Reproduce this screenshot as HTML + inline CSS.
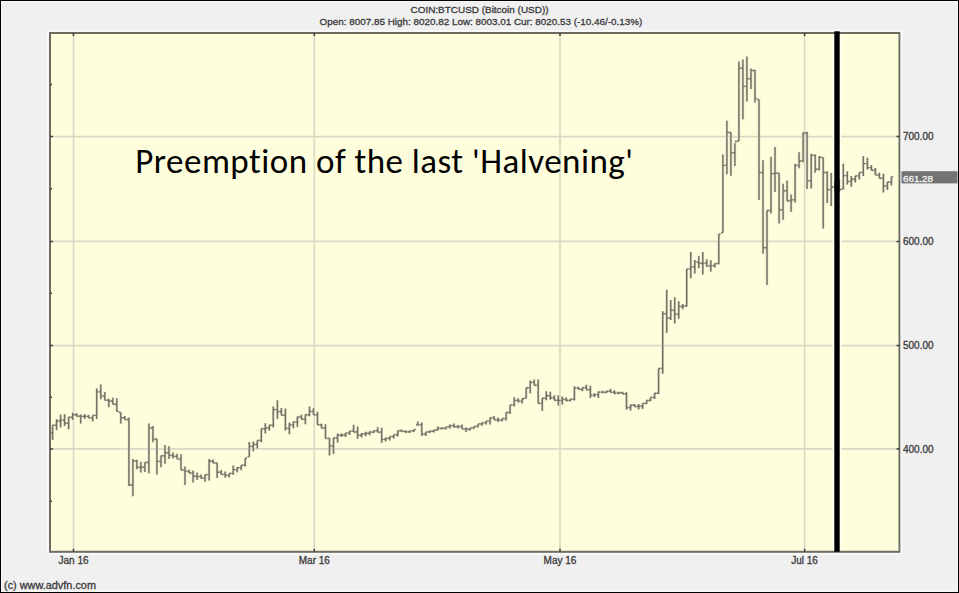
<!DOCTYPE html>
<html><head><meta charset="utf-8"><style>
html,body{margin:0;padding:0}
body{width:959px;height:593px;overflow:hidden;background:#f0f0f0;position:relative;font-family:"Liberation Sans",Arial,sans-serif}
#frame{position:absolute;left:0;top:0;width:955px;height:589px;border:1px solid #000;box-shadow:inset 0 0 0 1px #f7f7f7;padding:1px}
.t{position:absolute;white-space:pre;color:#3a3a3a;font-size:10px;line-height:11px;-webkit-text-stroke:0.3px currentColor}
svg{position:absolute;left:0;top:0}
</style></head><body>
<div id="frame"></div>
<div class="t" style="left:0;width:959px;text-align:center;top:4px;font-size:9.95px">COIN:BTCUSD (Bitcoin (USD))</div>
<div class="t" style="left:1.5px;width:959px;text-align:center;top:16px;font-size:9.9px">Open: 8007.85 High: 8020.82 Low: 8003.01 Cur: 8020.53 (-10.46/-0.13%)</div>
<svg width="959" height="593" viewBox="0 0 959 593">
<rect x="50.0" y="33.0" width="849.5" height="518.8" fill="#fefedd"/>
<g stroke="#d9d9c6" stroke-width="1.7"><line x1="73.5" y1="33.0" x2="73.5" y2="551.8"/><line x1="314.3" y1="33.0" x2="314.3" y2="551.8"/><line x1="560.0" y1="33.0" x2="560.0" y2="551.8"/><line x1="804.6" y1="33.0" x2="804.6" y2="551.8"/><line x1="50.0" y1="136.6" x2="899.5" y2="136.6"/><line x1="50.0" y1="241.4" x2="899.5" y2="241.4"/><line x1="50.0" y1="345.6" x2="899.5" y2="345.6"/><line x1="50.0" y1="448.9" x2="899.5" y2="448.9"/></g>
<rect x="832.6" y="34.0" width="8.8" height="516.8" fill="#fffff2"/>
<text x="135.3" y="172.6" textLength="497.7" lengthAdjust="spacing" font-family="Carlito, 'Liberation Sans', sans-serif" font-size="35" fill="#000" style="font-variant-ligatures:none;font-kerning:normal">Preemption of the last 'Halvening'</text>
<path d="M52.6 425.2V440.1M50.8 432.6H52.6M52.6 425.2H54.4M56.6 419.3V430.0M54.8 425.2H56.6M56.6 421.0H58.4M60.6 414.6V427.4M58.8 421.0H60.6M60.6 420.1H62.4M64.6 414.2V426.0M62.8 420.1H64.6M64.6 423.2H66.4M68.6 417.2V429.3M66.8 423.2H68.6M68.6 417.2H70.4M72.7 412.8V419.9M70.9 417.2H72.7M72.7 414.8H74.5M76.7 413.2V416.3M74.9 414.8H76.7M76.7 416.3H78.5M80.7 414.4V423.4M78.9 416.3H80.7M80.7 416.4H82.5M84.7 413.9V419.0M82.9 416.4H84.7M84.7 416.4H86.5M88.7 414.9V417.9M86.9 416.4H88.7M88.7 417.9H90.5M92.7 415.4V421.5M90.9 417.9H92.7M92.7 415.4H94.5M96.7 388.6V419.0M94.9 415.4H96.7M96.7 391.9H98.5M100.8 384.6V399.2M99.0 391.9H100.8M100.8 396.1H102.6M104.8 392.1V400.2M103.0 396.1H104.8M104.8 400.2H106.6M108.8 398.7V407.3M107.0 400.2H108.8M108.8 401.0H110.6M112.8 397.7V404.3M111.0 401.0H112.8M112.8 404.3H114.6M116.8 398.2V411.4M115.0 404.3H116.8M116.8 411.4H118.6M120.8 412.4V423.5M119.0 412.4H120.8M120.8 417.7H122.6M124.8 415.9V419.5M123.0 417.7H124.8M124.8 419.5H126.6M128.9 417.4V486.0M127.1 419.5H128.9M128.9 485.0H130.7M132.9 459.1V496.2M131.1 485.0H132.9M132.9 461.0H134.7M136.9 459.8V469.2M135.1 461.0H136.9M136.9 467.2H138.7M140.9 461.8V472.6M139.1 467.2H140.9M140.9 467.2H142.7M144.9 462.5V471.9M143.1 467.2H144.9M144.9 462.5H146.7M148.9 423.4V473.3M147.1 462.5H148.9M148.9 428.0H150.7M152.9 426.1V442.2M151.1 428.0H152.9M152.9 439.0H154.7M156.9 438.9V474.6M155.1 439.0H156.9M156.9 461.4H158.7M161.0 455.7V467.2M159.2 461.4H161.0M161.0 455.7H162.8M165.0 445.0V463.8M163.2 455.7H165.0M165.0 452.7H166.8M169.0 446.3V459.1M167.2 452.7H169.0M169.0 455.4H170.8M173.0 452.4V458.4M171.2 455.4H173.0M173.0 456.4H174.8M177.0 453.7V459.1M175.2 456.4H177.0M177.0 459.1H178.8M181.0 454.3V470.0M179.2 459.1H181.0M181.0 470.0H182.8M185.0 466.4V485.0M183.2 470.0H185.0M185.0 471.4H186.8M189.1 469.8V473.0M187.3 471.4H189.1M189.1 473.0H190.9M193.1 470.4V482.6M191.3 473.0H193.1M193.1 476.3H194.9M197.1 472.6V480.0M195.3 476.3H197.1M197.1 476.6H198.9M201.1 474.5V478.8M199.3 476.6H201.1M201.1 478.1H202.9M205.1 474.6V481.7M203.3 478.1H205.1M205.1 474.6H206.9M209.1 458.9V480.6M207.3 474.6H209.1M209.1 461.2H210.9M213.1 459.5V463.0M211.3 461.2H213.1M213.1 463.0H214.9M217.1 462.8V477.9M215.3 463.0H217.1M217.1 472.2H218.9M221.2 470.0V474.4M219.4 472.2H221.2M221.2 474.4H223.0M225.2 471.4V477.4M223.4 474.4H225.2M225.2 475.4H227.0M229.2 473.4V477.4M227.4 475.4H229.2M229.2 473.4H231.0M233.2 465.5V474.7M231.4 473.4H233.2M233.2 469.6H235.0M237.2 466.9V472.3M235.4 469.6H237.2M237.2 467.8H239.0M241.2 465.2V470.3M239.4 467.8H241.2M241.2 465.2H243.0M245.2 458.3V466.4M243.4 465.2H245.2M245.2 458.3H247.0M249.3 442.1V456.6M247.5 456.6H249.3M249.3 446.4H251.1M253.3 441.4V451.3M251.5 446.4H253.3M253.3 444.5H255.1M257.3 440.4V448.6M255.5 444.5H257.3M257.3 440.4H259.1M261.3 428.7V442.2M259.5 440.4H261.3M261.3 428.7H263.1M265.3 423.3V433.4M263.5 428.7H265.3M265.3 428.0H267.1M269.3 425.3V430.7M267.5 428.0H269.3M269.3 425.3H271.1M273.3 406.5V427.4M271.5 425.3H273.3M273.3 409.6H275.1M277.4 400.2V419.0M275.6 409.6H277.4M277.4 411.6H279.2M281.4 408.0V415.3M279.6 411.6H281.4M281.4 415.3H283.2M285.4 408.6V430.5M283.6 415.3H285.4M285.4 428.4H287.2M289.4 422.5V434.3M287.6 428.4H289.4M289.4 424.9H291.2M293.4 421.4V428.3M291.6 424.9H293.4M293.4 421.9H295.2M297.4 416.8V426.9M295.6 421.9H297.4M297.4 417.0H299.2M301.4 414.7V419.3M299.6 417.0H301.4M301.4 419.3H303.2M305.4 414.7V424.3M303.6 419.3H305.4M305.4 414.7H307.2M309.5 406.6V416.2M307.7 414.7H309.5M309.5 411.4H311.3M313.5 408.2V414.7M311.7 411.4H313.5M313.5 414.7H315.3M317.5 411.7V424.8M315.7 414.7H317.5M317.5 424.8H319.3M321.5 423.7V428.0M319.7 424.8H321.5M321.5 428.0H323.3M325.5 424.2V438.4M323.7 428.0H325.5M325.5 438.4H327.3M329.5 437.9V455.6M327.7 438.4H329.5M329.5 446.0H331.3M333.5 437.9V454.1M331.7 446.0H333.5M333.5 438.0H335.3M337.6 433.5V442.5M335.8 438.0H337.6M337.6 435.3H339.4M341.6 433.6V437.0M339.8 435.3H341.6M341.6 435.0H343.4M345.6 433.0V437.0M343.8 435.0H345.6M345.6 433.1H347.4M349.6 431.1V435.0M347.8 433.1H349.6M349.6 431.1H351.4M353.6 424.7V432.0M351.8 431.1H353.6M353.6 432.0H355.4M357.6 426.5V438.7M355.8 432.0H357.6M357.6 435.2H359.4M361.6 433.1V437.4M359.8 435.2H361.6M361.6 434.0H363.4M365.7 431.8V436.2M363.9 434.0H365.7M365.7 433.3H367.5M369.7 431.3V435.3M367.9 433.3H369.7M369.7 432.1H371.5M373.7 430.8V433.3M371.9 432.1H373.7M373.7 430.8H375.5M377.7 427.3V432.3M375.9 430.8H377.7M377.7 432.3H379.5M381.7 427.8V442.9M379.9 432.3H381.7M381.7 439.4H383.5M385.7 437.4V441.4M383.9 439.4H385.7M385.7 438.4H387.5M389.7 436.4V440.4M387.9 438.4H389.7M389.7 436.6H391.5M393.7 434.8V438.4M391.9 436.6H393.7M393.7 434.8H395.5M397.8 430.8V436.4M396.0 434.8H397.8M397.8 430.8H399.6M401.8 429.6V431.4M400.0 430.8H401.8M401.8 431.4H403.6M405.8 430.6V432.9M404.0 431.4H405.8M405.8 431.8H407.6M409.8 430.4V433.1M408.0 431.8H409.8M409.8 430.9H411.6M413.8 429.6V432.1M412.0 430.9H413.8M413.8 429.6H415.6M417.8 421.4V424.9M416.0 424.9H417.8M417.8 424.9H419.6M421.8 422.4V436.0M420.0 424.9H421.8M421.8 434.0H423.6M425.9 432.0V436.0M424.1 434.0H425.9M425.9 432.0H427.7M429.9 430.5V433.0M428.1 432.0H429.9M429.9 431.2H431.7M433.9 430.0V432.5M432.1 431.2H433.9M433.9 430.0H435.7M437.9 426.4V430.5M436.1 430.0H437.9M437.9 428.4H439.7M441.9 427.4V429.5M440.1 428.4H441.9M441.9 428.2H443.7M445.9 426.9V429.5M444.1 428.2H445.9M445.9 426.9H447.7M449.9 424.4V428.4M448.1 426.9H449.9M449.9 425.6H451.7M454.0 423.4V427.9M452.2 425.6H454.0M454.0 426.6H455.8M458.0 424.9V428.4M456.2 426.6H458.0M458.0 426.6H459.8M462.0 424.4V428.9M460.2 426.6H462.0M462.0 428.9H463.8M466.0 427.4V432.0M464.2 428.9H466.0M466.0 429.2H467.8M470.0 427.9V430.5M468.2 429.2H470.0M470.0 427.9H471.8M474.0 426.4V428.9M472.2 427.9H474.0M474.0 426.4H475.8M478.0 423.9V427.4M476.2 426.4H478.0M478.0 424.0H479.8M482.0 422.2V425.8M480.2 424.0H482.0M482.0 422.9H483.8M486.1 421.1V424.6M484.3 422.9H486.1M486.1 421.1H487.9M490.1 417.5V424.6M488.3 421.1H490.1M490.1 417.9H491.9M494.1 416.0V419.7M492.3 417.9H494.1M494.1 419.7H495.9M498.1 417.5V422.1M496.3 419.7H498.1M498.1 420.1H499.9M502.1 418.6V421.6M500.3 420.1H502.1M502.1 418.6H503.9M506.1 412.5V420.6M504.3 418.6H506.1M506.1 412.5H507.9M510.1 404.9V414.0M508.3 412.5H510.1M510.1 404.9H511.9M514.2 397.3V406.4M512.4 404.9H514.2M514.2 400.4H516.0M518.2 398.3V402.4M516.4 400.4H518.2M518.2 401.1H520.0M522.2 398.8V403.4M520.4 401.1H522.2M522.2 398.8H524.0M526.2 387.7V398.3M524.4 398.3H526.2M526.2 387.7H528.0M530.2 380.6V393.3M528.4 387.7H530.2M530.2 382.4H532.0M534.2 379.6V385.2M532.4 382.4H534.2M534.2 385.2H536.0M538.2 379.6V403.4M536.4 385.2H538.2M538.2 403.4H540.0M542.3 398.3V411.0M540.5 403.4H542.3M542.3 398.3H544.1M546.3 391.2V400.3M544.5 398.3H546.3M546.3 395.8H548.1M550.3 391.7V399.8M548.5 395.8H550.3M550.3 397.8H552.1M554.3 395.3V400.3M552.5 397.8H554.3M554.3 400.3H556.1M558.3 395.3V405.4M556.5 400.3H558.3M558.3 400.5H560.1M562.3 396.6V404.4M560.5 400.5H562.3M562.3 399.4H564.1M566.3 397.5V401.4M564.5 399.4H566.3M566.3 400.4H568.1M570.3 399.3V401.4M568.5 400.4H570.3M570.3 399.3H572.1M574.4 386.2V400.4M572.6 399.3H574.4M574.4 388.1H576.2M578.4 386.8V389.3M576.6 388.1H578.4M578.4 389.3H580.2M582.4 387.8V391.3M580.6 389.3H582.4M582.4 387.8H584.2M586.4 384.7V389.8M584.6 387.8H586.4M586.4 389.8H588.2M590.4 385.7V397.9M588.6 389.8H590.4M590.4 395.1H592.2M594.4 393.3V396.9M592.6 395.1H594.4M594.4 394.6H596.2M598.4 391.3V397.9M596.6 394.6H598.4M598.4 392.1H600.2M602.5 390.8V393.3M600.7 392.1H602.5M602.5 392.3H604.3M606.5 391.3V393.3M604.7 392.3H606.5M606.5 391.3H608.3M610.5 388.8V392.3M608.7 391.3H610.5M610.5 392.3H612.3M614.5 390.3V394.3M612.7 392.3H614.5M614.5 393.1H616.3M618.5 391.8V394.3M616.7 393.1H618.5M618.5 392.8H620.3M622.5 391.8V393.8M620.7 392.8H622.5M622.5 393.8H624.3M626.5 392.3V409.5M624.7 393.8H626.5M626.5 407.5H628.3M630.6 404.5V410.5M628.8 407.5H630.6M630.6 405.2H632.4M634.6 403.9V406.5M632.8 405.2H634.6M634.6 406.5H636.4M638.6 403.9V409.5M636.8 406.5H638.6M638.6 406.2H640.4M642.6 403.4V409.0M640.8 406.2H642.6M642.6 403.4H644.4M646.6 400.5V404.0M644.8 403.4H646.6M646.6 400.5H648.4M650.6 397.4V401.0M648.8 400.5H650.6M650.6 397.4H652.4M654.6 393.3V399.0M652.8 397.4H654.6M654.6 393.3H656.4M658.6 368.4V394.0M656.8 393.3H658.6M658.6 368.4H660.4M662.7 311.3V373.8M660.9 368.4H662.7M662.7 313.7H664.5M666.7 289.8V333.0M664.9 313.7H666.7M666.7 318.0H668.5M670.7 299.9V320.1M668.9 318.0H670.7M670.7 310.3H672.5M674.7 297.2V323.5M672.9 310.3H674.7M674.7 314.1H676.5M678.7 301.2V318.8M676.9 314.1H678.7M678.7 306.5H680.5M682.7 303.9V309.3M680.9 306.5H682.7M682.7 306.0H684.5M686.7 268.9V306.6M684.9 306.0H686.7M686.7 268.9H688.5M690.8 252.0V278.3M689.0 268.9H690.8M690.8 266.9H692.6M694.8 260.1V273.6M693.0 266.9H694.8M694.8 262.1H696.6M698.8 256.1V268.2M697.0 262.1H698.8M698.8 263.2H700.6M702.8 252.0V274.5M701.0 263.2H702.8M702.8 263.1H704.6M706.8 259.3V267.0M705.0 263.1H706.8M706.8 265.9H708.6M710.8 260.3V271.4M709.0 265.9H710.8M710.8 265.6H712.6M714.8 263.6V267.5M713.0 265.6H714.8M714.8 263.6H716.6M718.8 234.1V264.2M717.0 263.6H718.8M718.8 234.1H720.6M722.9 154.6V232.6M721.1 232.6H722.9M722.9 165.4H724.7M726.9 120.8V174.3M725.1 165.4H726.9M726.9 132.5H728.7M730.9 132.4V175.8M729.1 132.5H730.9M730.9 152.8H732.7M734.9 143.2V166.0M733.1 152.8H734.9M734.9 141.5H736.7M738.9 61.4V141.0M737.1 141.0H738.9M738.9 68.2H740.7M742.9 59.5V119.3M741.1 68.2H742.9M742.9 86.4H744.7M746.9 56.5V101.4M745.1 86.4H746.9M746.9 78.8H748.7M751.0 68.6V89.0M749.2 78.8H751.0M751.0 70.5H752.8M755.0 70.0V102.6M753.2 70.5H755.0M755.0 98.6H756.8M759.0 99.6V200.0M757.2 99.6H759.0M759.0 172.5H760.8M763.0 160.2V253.8M761.2 172.5H763.0M763.0 247.7H764.8M767.0 210.5V284.9M765.2 247.7H767.0M767.0 210.5H768.8M771.0 156.8V213.5M769.2 210.5H771.0M771.0 173.6H772.8M775.0 147.0V192.0M773.2 173.6H775.0M775.0 173.3H776.8M779.1 173.2V223.4M777.3 173.3H779.1M779.1 209.8H780.9M783.1 183.8V219.8M781.3 209.8H783.1M783.1 190.7H784.9M787.1 180.4V201.0M785.3 190.7H787.1M787.1 201.0H788.9M791.1 194.5V211.8M789.3 201.0H791.1M791.1 199.9H792.9M795.1 163.7V202.5M793.3 199.9H795.1M795.1 165.4H796.9M799.1 152.3V168.2M797.3 165.4H799.1M799.1 161.0H800.9M803.1 132.6V162.2M801.3 161.0H803.1M803.1 133.0H804.9M807.1 131.8V189.0M805.3 133.0H807.1M807.1 180.7H808.9M811.2 153.8V188.5M809.4 180.7H811.2M811.2 155.4H813.0M815.2 154.6V172.8M813.4 155.4H815.2M815.2 169.3H817.0M819.2 156.1V170.5M817.4 169.3H819.2M819.2 157.3H821.0M823.2 157.6V228.5M821.4 157.6H823.2M823.2 172.5H825.0M827.2 171.3V203.0M825.4 172.5H827.2M827.2 189.6H829.0M831.2 173.0V206.1M829.4 189.6H831.2M831.2 187.0H833.0M835.2 181.0V193.0M833.4 187.0H835.2M835.2 185.6H837.0M839.3 179.6V191.7M837.5 185.6H839.3M839.3 189.6H841.1M843.3 163.8V189.0M841.5 189.0H843.3M843.3 175.6H845.1M847.3 171.2V184.6M845.5 175.6H847.3M847.3 181.4H849.1M851.3 176.0V186.8M849.5 181.4H851.3M851.3 179.2H853.1M855.3 175.9V182.5M853.5 179.2H855.3M855.3 175.9H857.1M859.3 172.4V179.5M857.5 175.9H859.3M859.3 172.4H861.1M863.3 156.2V175.9M861.5 172.4H863.3M863.3 163.6H865.1M867.4 157.7V169.4M865.6 163.6H867.4M867.4 167.6H869.2M871.4 165.0V170.2M869.6 167.6H871.4M871.4 170.2H873.2M875.4 168.0V175.0M873.6 170.2H875.4M875.4 175.0H877.2M879.4 172.8V178.2M877.6 175.0H879.4M879.4 178.2H881.2M883.4 173.8V192.5M881.6 178.2H883.4M883.4 186.0H885.2M887.4 182.0V190.0M885.6 186.0H887.4M887.4 182.0H889.2M891.4 176.5V185.6M889.6 182.0H891.4M891.4 176.9H893.2" stroke="#d6d6c0" stroke-width="2.5" fill="none"/>
<path d="M52.6 425.2V440.1M50.8 432.6H52.6M52.6 425.2H54.4M56.6 419.3V430.0M54.8 425.2H56.6M56.6 421.0H58.4M60.6 414.6V427.4M58.8 421.0H60.6M60.6 420.1H62.4M64.6 414.2V426.0M62.8 420.1H64.6M64.6 423.2H66.4M68.6 417.2V429.3M66.8 423.2H68.6M68.6 417.2H70.4M72.7 412.8V419.9M70.9 417.2H72.7M72.7 414.8H74.5M76.7 413.2V416.3M74.9 414.8H76.7M76.7 416.3H78.5M80.7 414.4V423.4M78.9 416.3H80.7M80.7 416.4H82.5M84.7 413.9V419.0M82.9 416.4H84.7M84.7 416.4H86.5M88.7 414.9V417.9M86.9 416.4H88.7M88.7 417.9H90.5M92.7 415.4V421.5M90.9 417.9H92.7M92.7 415.4H94.5M96.7 388.6V419.0M94.9 415.4H96.7M96.7 391.9H98.5M100.8 384.6V399.2M99.0 391.9H100.8M100.8 396.1H102.6M104.8 392.1V400.2M103.0 396.1H104.8M104.8 400.2H106.6M108.8 398.7V407.3M107.0 400.2H108.8M108.8 401.0H110.6M112.8 397.7V404.3M111.0 401.0H112.8M112.8 404.3H114.6M116.8 398.2V411.4M115.0 404.3H116.8M116.8 411.4H118.6M120.8 412.4V423.5M119.0 412.4H120.8M120.8 417.7H122.6M124.8 415.9V419.5M123.0 417.7H124.8M124.8 419.5H126.6M128.9 417.4V486.0M127.1 419.5H128.9M128.9 485.0H130.7M132.9 459.1V496.2M131.1 485.0H132.9M132.9 461.0H134.7M136.9 459.8V469.2M135.1 461.0H136.9M136.9 467.2H138.7M140.9 461.8V472.6M139.1 467.2H140.9M140.9 467.2H142.7M144.9 462.5V471.9M143.1 467.2H144.9M144.9 462.5H146.7M148.9 423.4V473.3M147.1 462.5H148.9M148.9 428.0H150.7M152.9 426.1V442.2M151.1 428.0H152.9M152.9 439.0H154.7M156.9 438.9V474.6M155.1 439.0H156.9M156.9 461.4H158.7M161.0 455.7V467.2M159.2 461.4H161.0M161.0 455.7H162.8M165.0 445.0V463.8M163.2 455.7H165.0M165.0 452.7H166.8M169.0 446.3V459.1M167.2 452.7H169.0M169.0 455.4H170.8M173.0 452.4V458.4M171.2 455.4H173.0M173.0 456.4H174.8M177.0 453.7V459.1M175.2 456.4H177.0M177.0 459.1H178.8M181.0 454.3V470.0M179.2 459.1H181.0M181.0 470.0H182.8M185.0 466.4V485.0M183.2 470.0H185.0M185.0 471.4H186.8M189.1 469.8V473.0M187.3 471.4H189.1M189.1 473.0H190.9M193.1 470.4V482.6M191.3 473.0H193.1M193.1 476.3H194.9M197.1 472.6V480.0M195.3 476.3H197.1M197.1 476.6H198.9M201.1 474.5V478.8M199.3 476.6H201.1M201.1 478.1H202.9M205.1 474.6V481.7M203.3 478.1H205.1M205.1 474.6H206.9M209.1 458.9V480.6M207.3 474.6H209.1M209.1 461.2H210.9M213.1 459.5V463.0M211.3 461.2H213.1M213.1 463.0H214.9M217.1 462.8V477.9M215.3 463.0H217.1M217.1 472.2H218.9M221.2 470.0V474.4M219.4 472.2H221.2M221.2 474.4H223.0M225.2 471.4V477.4M223.4 474.4H225.2M225.2 475.4H227.0M229.2 473.4V477.4M227.4 475.4H229.2M229.2 473.4H231.0M233.2 465.5V474.7M231.4 473.4H233.2M233.2 469.6H235.0M237.2 466.9V472.3M235.4 469.6H237.2M237.2 467.8H239.0M241.2 465.2V470.3M239.4 467.8H241.2M241.2 465.2H243.0M245.2 458.3V466.4M243.4 465.2H245.2M245.2 458.3H247.0M249.3 442.1V456.6M247.5 456.6H249.3M249.3 446.4H251.1M253.3 441.4V451.3M251.5 446.4H253.3M253.3 444.5H255.1M257.3 440.4V448.6M255.5 444.5H257.3M257.3 440.4H259.1M261.3 428.7V442.2M259.5 440.4H261.3M261.3 428.7H263.1M265.3 423.3V433.4M263.5 428.7H265.3M265.3 428.0H267.1M269.3 425.3V430.7M267.5 428.0H269.3M269.3 425.3H271.1M273.3 406.5V427.4M271.5 425.3H273.3M273.3 409.6H275.1M277.4 400.2V419.0M275.6 409.6H277.4M277.4 411.6H279.2M281.4 408.0V415.3M279.6 411.6H281.4M281.4 415.3H283.2M285.4 408.6V430.5M283.6 415.3H285.4M285.4 428.4H287.2M289.4 422.5V434.3M287.6 428.4H289.4M289.4 424.9H291.2M293.4 421.4V428.3M291.6 424.9H293.4M293.4 421.9H295.2M297.4 416.8V426.9M295.6 421.9H297.4M297.4 417.0H299.2M301.4 414.7V419.3M299.6 417.0H301.4M301.4 419.3H303.2M305.4 414.7V424.3M303.6 419.3H305.4M305.4 414.7H307.2M309.5 406.6V416.2M307.7 414.7H309.5M309.5 411.4H311.3M313.5 408.2V414.7M311.7 411.4H313.5M313.5 414.7H315.3M317.5 411.7V424.8M315.7 414.7H317.5M317.5 424.8H319.3M321.5 423.7V428.0M319.7 424.8H321.5M321.5 428.0H323.3M325.5 424.2V438.4M323.7 428.0H325.5M325.5 438.4H327.3M329.5 437.9V455.6M327.7 438.4H329.5M329.5 446.0H331.3M333.5 437.9V454.1M331.7 446.0H333.5M333.5 438.0H335.3M337.6 433.5V442.5M335.8 438.0H337.6M337.6 435.3H339.4M341.6 433.6V437.0M339.8 435.3H341.6M341.6 435.0H343.4M345.6 433.0V437.0M343.8 435.0H345.6M345.6 433.1H347.4M349.6 431.1V435.0M347.8 433.1H349.6M349.6 431.1H351.4M353.6 424.7V432.0M351.8 431.1H353.6M353.6 432.0H355.4M357.6 426.5V438.7M355.8 432.0H357.6M357.6 435.2H359.4M361.6 433.1V437.4M359.8 435.2H361.6M361.6 434.0H363.4M365.7 431.8V436.2M363.9 434.0H365.7M365.7 433.3H367.5M369.7 431.3V435.3M367.9 433.3H369.7M369.7 432.1H371.5M373.7 430.8V433.3M371.9 432.1H373.7M373.7 430.8H375.5M377.7 427.3V432.3M375.9 430.8H377.7M377.7 432.3H379.5M381.7 427.8V442.9M379.9 432.3H381.7M381.7 439.4H383.5M385.7 437.4V441.4M383.9 439.4H385.7M385.7 438.4H387.5M389.7 436.4V440.4M387.9 438.4H389.7M389.7 436.6H391.5M393.7 434.8V438.4M391.9 436.6H393.7M393.7 434.8H395.5M397.8 430.8V436.4M396.0 434.8H397.8M397.8 430.8H399.6M401.8 429.6V431.4M400.0 430.8H401.8M401.8 431.4H403.6M405.8 430.6V432.9M404.0 431.4H405.8M405.8 431.8H407.6M409.8 430.4V433.1M408.0 431.8H409.8M409.8 430.9H411.6M413.8 429.6V432.1M412.0 430.9H413.8M413.8 429.6H415.6M417.8 421.4V424.9M416.0 424.9H417.8M417.8 424.9H419.6M421.8 422.4V436.0M420.0 424.9H421.8M421.8 434.0H423.6M425.9 432.0V436.0M424.1 434.0H425.9M425.9 432.0H427.7M429.9 430.5V433.0M428.1 432.0H429.9M429.9 431.2H431.7M433.9 430.0V432.5M432.1 431.2H433.9M433.9 430.0H435.7M437.9 426.4V430.5M436.1 430.0H437.9M437.9 428.4H439.7M441.9 427.4V429.5M440.1 428.4H441.9M441.9 428.2H443.7M445.9 426.9V429.5M444.1 428.2H445.9M445.9 426.9H447.7M449.9 424.4V428.4M448.1 426.9H449.9M449.9 425.6H451.7M454.0 423.4V427.9M452.2 425.6H454.0M454.0 426.6H455.8M458.0 424.9V428.4M456.2 426.6H458.0M458.0 426.6H459.8M462.0 424.4V428.9M460.2 426.6H462.0M462.0 428.9H463.8M466.0 427.4V432.0M464.2 428.9H466.0M466.0 429.2H467.8M470.0 427.9V430.5M468.2 429.2H470.0M470.0 427.9H471.8M474.0 426.4V428.9M472.2 427.9H474.0M474.0 426.4H475.8M478.0 423.9V427.4M476.2 426.4H478.0M478.0 424.0H479.8M482.0 422.2V425.8M480.2 424.0H482.0M482.0 422.9H483.8M486.1 421.1V424.6M484.3 422.9H486.1M486.1 421.1H487.9M490.1 417.5V424.6M488.3 421.1H490.1M490.1 417.9H491.9M494.1 416.0V419.7M492.3 417.9H494.1M494.1 419.7H495.9M498.1 417.5V422.1M496.3 419.7H498.1M498.1 420.1H499.9M502.1 418.6V421.6M500.3 420.1H502.1M502.1 418.6H503.9M506.1 412.5V420.6M504.3 418.6H506.1M506.1 412.5H507.9M510.1 404.9V414.0M508.3 412.5H510.1M510.1 404.9H511.9M514.2 397.3V406.4M512.4 404.9H514.2M514.2 400.4H516.0M518.2 398.3V402.4M516.4 400.4H518.2M518.2 401.1H520.0M522.2 398.8V403.4M520.4 401.1H522.2M522.2 398.8H524.0M526.2 387.7V398.3M524.4 398.3H526.2M526.2 387.7H528.0M530.2 380.6V393.3M528.4 387.7H530.2M530.2 382.4H532.0M534.2 379.6V385.2M532.4 382.4H534.2M534.2 385.2H536.0M538.2 379.6V403.4M536.4 385.2H538.2M538.2 403.4H540.0M542.3 398.3V411.0M540.5 403.4H542.3M542.3 398.3H544.1M546.3 391.2V400.3M544.5 398.3H546.3M546.3 395.8H548.1M550.3 391.7V399.8M548.5 395.8H550.3M550.3 397.8H552.1M554.3 395.3V400.3M552.5 397.8H554.3M554.3 400.3H556.1M558.3 395.3V405.4M556.5 400.3H558.3M558.3 400.5H560.1M562.3 396.6V404.4M560.5 400.5H562.3M562.3 399.4H564.1M566.3 397.5V401.4M564.5 399.4H566.3M566.3 400.4H568.1M570.3 399.3V401.4M568.5 400.4H570.3M570.3 399.3H572.1M574.4 386.2V400.4M572.6 399.3H574.4M574.4 388.1H576.2M578.4 386.8V389.3M576.6 388.1H578.4M578.4 389.3H580.2M582.4 387.8V391.3M580.6 389.3H582.4M582.4 387.8H584.2M586.4 384.7V389.8M584.6 387.8H586.4M586.4 389.8H588.2M590.4 385.7V397.9M588.6 389.8H590.4M590.4 395.1H592.2M594.4 393.3V396.9M592.6 395.1H594.4M594.4 394.6H596.2M598.4 391.3V397.9M596.6 394.6H598.4M598.4 392.1H600.2M602.5 390.8V393.3M600.7 392.1H602.5M602.5 392.3H604.3M606.5 391.3V393.3M604.7 392.3H606.5M606.5 391.3H608.3M610.5 388.8V392.3M608.7 391.3H610.5M610.5 392.3H612.3M614.5 390.3V394.3M612.7 392.3H614.5M614.5 393.1H616.3M618.5 391.8V394.3M616.7 393.1H618.5M618.5 392.8H620.3M622.5 391.8V393.8M620.7 392.8H622.5M622.5 393.8H624.3M626.5 392.3V409.5M624.7 393.8H626.5M626.5 407.5H628.3M630.6 404.5V410.5M628.8 407.5H630.6M630.6 405.2H632.4M634.6 403.9V406.5M632.8 405.2H634.6M634.6 406.5H636.4M638.6 403.9V409.5M636.8 406.5H638.6M638.6 406.2H640.4M642.6 403.4V409.0M640.8 406.2H642.6M642.6 403.4H644.4M646.6 400.5V404.0M644.8 403.4H646.6M646.6 400.5H648.4M650.6 397.4V401.0M648.8 400.5H650.6M650.6 397.4H652.4M654.6 393.3V399.0M652.8 397.4H654.6M654.6 393.3H656.4M658.6 368.4V394.0M656.8 393.3H658.6M658.6 368.4H660.4M662.7 311.3V373.8M660.9 368.4H662.7M662.7 313.7H664.5M666.7 289.8V333.0M664.9 313.7H666.7M666.7 318.0H668.5M670.7 299.9V320.1M668.9 318.0H670.7M670.7 310.3H672.5M674.7 297.2V323.5M672.9 310.3H674.7M674.7 314.1H676.5M678.7 301.2V318.8M676.9 314.1H678.7M678.7 306.5H680.5M682.7 303.9V309.3M680.9 306.5H682.7M682.7 306.0H684.5M686.7 268.9V306.6M684.9 306.0H686.7M686.7 268.9H688.5M690.8 252.0V278.3M689.0 268.9H690.8M690.8 266.9H692.6M694.8 260.1V273.6M693.0 266.9H694.8M694.8 262.1H696.6M698.8 256.1V268.2M697.0 262.1H698.8M698.8 263.2H700.6M702.8 252.0V274.5M701.0 263.2H702.8M702.8 263.1H704.6M706.8 259.3V267.0M705.0 263.1H706.8M706.8 265.9H708.6M710.8 260.3V271.4M709.0 265.9H710.8M710.8 265.6H712.6M714.8 263.6V267.5M713.0 265.6H714.8M714.8 263.6H716.6M718.8 234.1V264.2M717.0 263.6H718.8M718.8 234.1H720.6M722.9 154.6V232.6M721.1 232.6H722.9M722.9 165.4H724.7M726.9 120.8V174.3M725.1 165.4H726.9M726.9 132.5H728.7M730.9 132.4V175.8M729.1 132.5H730.9M730.9 152.8H732.7M734.9 143.2V166.0M733.1 152.8H734.9M734.9 141.5H736.7M738.9 61.4V141.0M737.1 141.0H738.9M738.9 68.2H740.7M742.9 59.5V119.3M741.1 68.2H742.9M742.9 86.4H744.7M746.9 56.5V101.4M745.1 86.4H746.9M746.9 78.8H748.7M751.0 68.6V89.0M749.2 78.8H751.0M751.0 70.5H752.8M755.0 70.0V102.6M753.2 70.5H755.0M755.0 98.6H756.8M759.0 99.6V200.0M757.2 99.6H759.0M759.0 172.5H760.8M763.0 160.2V253.8M761.2 172.5H763.0M763.0 247.7H764.8M767.0 210.5V284.9M765.2 247.7H767.0M767.0 210.5H768.8M771.0 156.8V213.5M769.2 210.5H771.0M771.0 173.6H772.8M775.0 147.0V192.0M773.2 173.6H775.0M775.0 173.3H776.8M779.1 173.2V223.4M777.3 173.3H779.1M779.1 209.8H780.9M783.1 183.8V219.8M781.3 209.8H783.1M783.1 190.7H784.9M787.1 180.4V201.0M785.3 190.7H787.1M787.1 201.0H788.9M791.1 194.5V211.8M789.3 201.0H791.1M791.1 199.9H792.9M795.1 163.7V202.5M793.3 199.9H795.1M795.1 165.4H796.9M799.1 152.3V168.2M797.3 165.4H799.1M799.1 161.0H800.9M803.1 132.6V162.2M801.3 161.0H803.1M803.1 133.0H804.9M807.1 131.8V189.0M805.3 133.0H807.1M807.1 180.7H808.9M811.2 153.8V188.5M809.4 180.7H811.2M811.2 155.4H813.0M815.2 154.6V172.8M813.4 155.4H815.2M815.2 169.3H817.0M819.2 156.1V170.5M817.4 169.3H819.2M819.2 157.3H821.0M823.2 157.6V228.5M821.4 157.6H823.2M823.2 172.5H825.0M827.2 171.3V203.0M825.4 172.5H827.2M827.2 189.6H829.0M831.2 173.0V206.1M829.4 189.6H831.2M831.2 187.0H833.0M835.2 181.0V193.0M833.4 187.0H835.2M835.2 185.6H837.0M839.3 179.6V191.7M837.5 185.6H839.3M839.3 189.6H841.1M843.3 163.8V189.0M841.5 189.0H843.3M843.3 175.6H845.1M847.3 171.2V184.6M845.5 175.6H847.3M847.3 181.4H849.1M851.3 176.0V186.8M849.5 181.4H851.3M851.3 179.2H853.1M855.3 175.9V182.5M853.5 179.2H855.3M855.3 175.9H857.1M859.3 172.4V179.5M857.5 175.9H859.3M859.3 172.4H861.1M863.3 156.2V175.9M861.5 172.4H863.3M863.3 163.6H865.1M867.4 157.7V169.4M865.6 163.6H867.4M867.4 167.6H869.2M871.4 165.0V170.2M869.6 167.6H871.4M871.4 170.2H873.2M875.4 168.0V175.0M873.6 170.2H875.4M875.4 175.0H877.2M879.4 172.8V178.2M877.6 175.0H879.4M879.4 178.2H881.2M883.4 173.8V192.5M881.6 178.2H883.4M883.4 186.0H885.2M887.4 182.0V190.0M885.6 186.0H887.4M887.4 182.0H889.2M891.4 176.5V185.6M889.6 182.0H891.4M891.4 176.9H893.2" stroke="#747466" stroke-width="1.4" fill="none"/>
<rect x="50.0" y="33.0" width="849.5" height="518.8" fill="none" stroke="#6c6d60" stroke-width="2"/>
<path d="M73.5 551.8v-3M73.5 33.0v3M314.3 551.8v-3M314.3 33.0v3M560.0 551.8v-3M560.0 33.0v3M804.6 551.8v-3M804.6 33.0v3M899.5 136.6h-3M50.0 136.6h3M899.5 241.4h-3M50.0 241.4h3M899.5 345.6h-3M50.0 345.6h3M899.5 448.9h-3M50.0 448.9h3M50.0 84.5h2M50.0 188.8h2M50.0 293.2h2M50.0 397.2h2M50.0 501.3h2" stroke="#404038" stroke-width="1.5" fill="none"/>
<rect x="48.0" y="31.0" width="853.5" height="522.8" fill="none" stroke="#fafafa" stroke-width="1.6"/>
<rect x="834.3" y="31.3" width="5.4" height="520.5" fill="#000"/>
<rect x="901.5" y="171.2" width="56" height="12.2" fill="#737373"/>
</svg>
<div class="t" style="left:903px;top:172.8px;color:#f4f4f4;line-height:12px;font-size:9.8px">661.28</div>
<div class="t" style="left:903px;top:131.3px">700.00</div>
<div class="t" style="left:903px;top:236.1px">600.00</div>
<div class="t" style="left:903px;top:340.3px">500.00</div>
<div class="t" style="left:903px;top:443.6px">400.00</div>
<div class="t" style="left:33.5px;width:80px;text-align:center;top:555px">Jan 16</div>
<div class="t" style="left:274.3px;width:80px;text-align:center;top:555px">Mar 16</div>
<div class="t" style="left:520.0px;width:80px;text-align:center;top:555px">May 16</div>
<div class="t" style="left:764.6px;width:80px;text-align:center;top:555px">Jul 16</div>
<div class="t" style="left:4px;top:579.3px;font-size:10.9px;line-height:12px">(c) www.advfn.com</div>
</body></html>
